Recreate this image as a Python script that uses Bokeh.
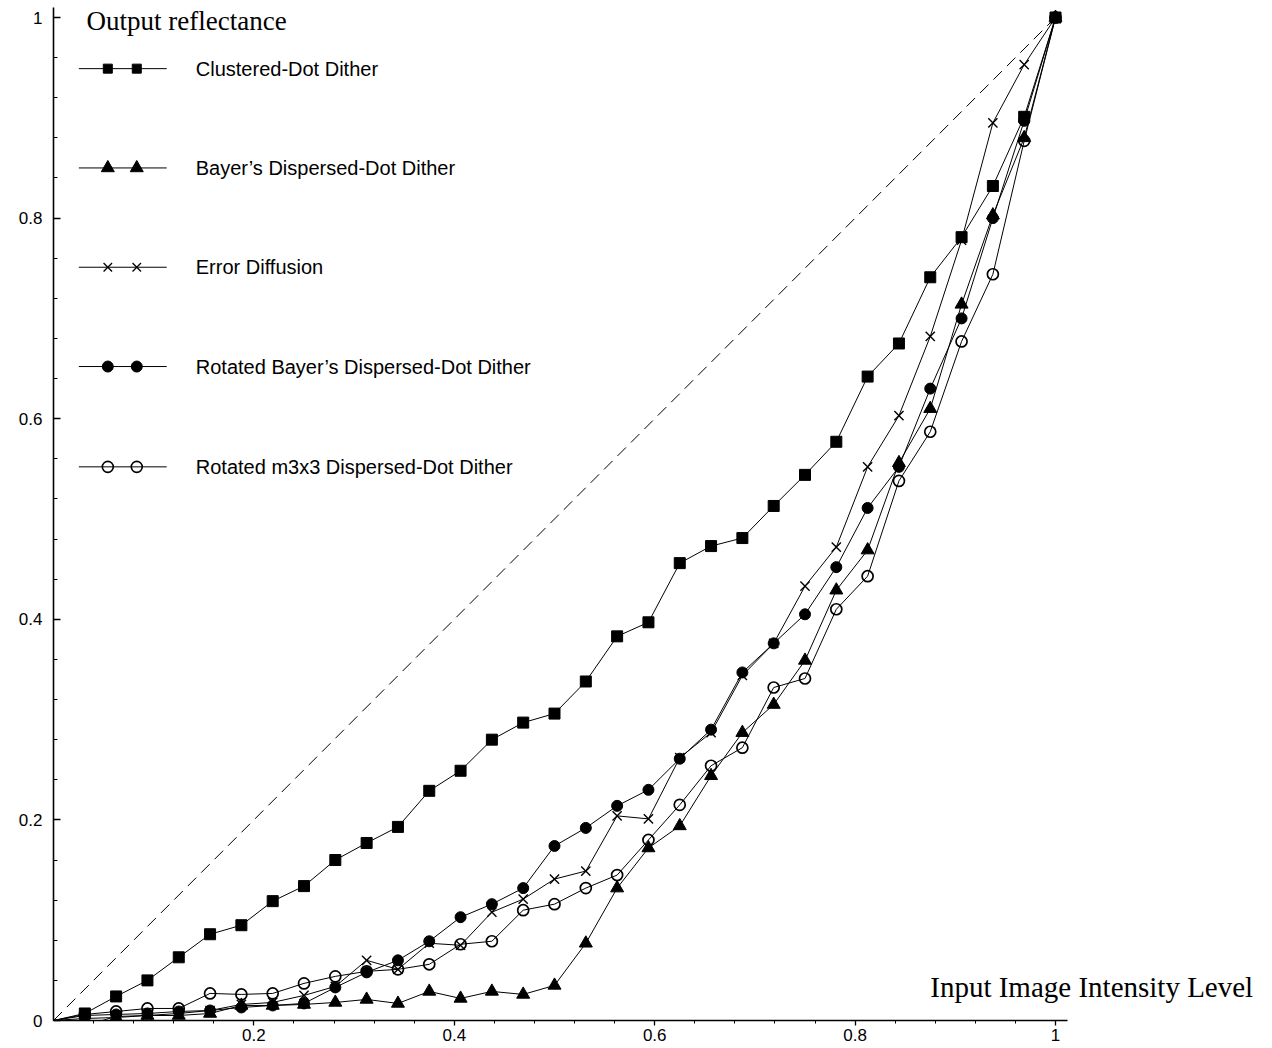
from bokeh.plotting import figure
from bokeh.models import Range1d, FixedTicker, CustomJSTickFormatter, Label
from bokeh.embed import file_html
from bokeh.resources import INLINE

# ---------------- data ----------------
x_levels = [0.0, 0.03125, 0.0625, 0.09375, 0.125, 0.15625, 0.1875, 0.21875, 0.25,
            0.28125, 0.3125, 0.34375, 0.375, 0.40625, 0.4375, 0.46875, 0.5,
            0.53125, 0.5625, 0.59375, 0.625, 0.65625, 0.6875, 0.71875, 0.75,
            0.78125, 0.8125, 0.84375, 0.875, 0.90625, 0.9375, 0.96875, 1.0]

clustered = [0.000, 0.007, 0.024, 0.040, 0.063, 0.086, 0.095, 0.119, 0.134, 0.160, 0.177,
             0.193, 0.229, 0.249, 0.280, 0.297, 0.306, 0.338, 0.383, 0.397, 0.456, 0.473,
             0.481, 0.513, 0.544, 0.577, 0.642, 0.675, 0.741, 0.781, 0.832, 0.901, 1.000]

bayer = [0.000, 0.002, 0.003, 0.005, 0.005, 0.007, 0.015, 0.015, 0.016, 0.018, 0.021,
         0.017, 0.029, 0.022, 0.029, 0.026, 0.035, 0.077, 0.132, 0.172, 0.194, 0.244,
         0.287, 0.315, 0.359, 0.429, 0.469, 0.556, 0.610, 0.714, 0.803, 0.880, 1.000]

error_diffusion = [0.000, -0.005, 0.004, 0.005, 0.007, 0.010, 0.016, 0.018, 0.025, 0.034, 0.060,
                   0.051, 0.077, 0.075, 0.108, 0.121, 0.141, 0.149, 0.204, 0.201, 0.262, 0.287,
                   0.344, 0.376, 0.433, 0.472, 0.552, 0.603, 0.682, 0.778, 0.895, 0.953, 1.000]

rotated_bayer = [0.000, 0.005, 0.006, 0.007, 0.009, 0.010, 0.013, 0.015, 0.017, 0.033, 0.048,
                 0.060, 0.079, 0.103, 0.116, 0.132, 0.174, 0.192, 0.214, 0.230, 0.261, 0.290,
                 0.347, 0.376, 0.405, 0.452, 0.511, 0.552, 0.630, 0.700, 0.800, 0.897, 1.000]

rotated_m3x3 = [0.000, 0.006, 0.009, 0.012, 0.012, 0.027, 0.026, 0.027, 0.037, 0.044, 0.049,
                0.051, 0.056, 0.076, 0.079, 0.110, 0.116, 0.132, 0.145, 0.180, 0.215, 0.254,
                0.272, 0.332, 0.341, 0.410, 0.443, 0.538, 0.587, 0.677, 0.744, 0.877, 1.000]

ideal_x = [0.0, 1.0]
ideal_y = [0.0, 1.0]

series_names = ["Clustered-Dot Dither",
                "Bayer\u2019s Dispersed-Dot Dither",
                "Error Diffusion",
                "Rotated Bayer\u2019s Dispersed-Dot Dither",
                "Rotated m3x3 Dispersed-Dot Dither"]

y_tick_values = [0.0, 0.2, 0.4, 0.6, 0.8, 1.0]
x_tick_values = [0.2, 0.4, 0.6, 0.8, 1.0]

y_title = "Output reflectance"
x_title = "Input Image Intensity Level"

# ---------------- styles ----------------
SANS = "Liberation Sans"
SERIF = "Liberation Serif"

marker_styles = [
    dict(marker="square", size=11, fill_color="black", line_color="black", line_width=1),
    dict(marker="triangle", size=13, fill_color="black", line_color="black", line_width=1),
    dict(marker="x", size=13, fill_color=None, line_color="black", line_width=1.4),
    dict(marker="circle", size=11, fill_color="black", line_color="black", line_width=1),
    dict(marker="circle", size=11, fill_color=None, line_color="black", line_width=1.7),
]
legend_marker_styles = [
    dict(marker="square", size=9, fill_color="black", line_color="black", line_width=1),
    dict(marker="triangle", size=13, fill_color="black", line_color="black", line_width=1),
    dict(marker="x", size=12, fill_color=None, line_color="black", line_width=1.3),
    dict(marker="circle", size=11, fill_color="black", line_color="black", line_width=1),
    dict(marker="circle", size=11, fill_color=None, line_color="black", line_width=1.6),
]

# frame: x 0..1 spans 1002 px starting 53 px from the left; y 0..1 spans 1003 px, y=0 at 1020 px
p = figure(frame_width=1209, frame_height=1020,
           x_range=Range1d(0, 1209 / 1002), y_range=Range1d(0, 1020 / 1003),
           output_backend="svg", toolbar_location=None, title=None,
           min_border_left=53, min_border_right=0, min_border_top=0, min_border_bottom=26)
p.grid.visible = False
p.outline_line_color = None
p.background_fill_color = "white"

# ideal diagonal
p.line(ideal_x, ideal_y, line_color="black", line_width=1, line_dash="12 7")

all_series = [clustered, bayer, error_diffusion, rotated_bayer, rotated_m3x3]
for ys, st in zip(all_series, marker_styles):
    p.line(x_levels, ys, line_color="black", line_width=1)
    p.scatter(x_levels[1:], ys[1:], **st)

# ---------------- manual legend (layout positions in data units) ----------------
leg_line_x = [0.0253, 0.113]
leg_mark_x = [0.0542, 0.0831]
leg_text_x = 0.142
leg_rows_y = [0.949, 0.850, 0.751, 0.652, 0.552]
for name, st, ry in zip(series_names, legend_marker_styles, leg_rows_y):
    p.line(leg_line_x, [ry, ry], line_color="black", line_width=1)
    p.scatter(leg_mark_x, [ry, ry], **st)
    p.add_layout(Label(x=leg_text_x, y=ry, text=name, text_font=SANS,
                       text_font_size="20px", text_baseline="middle", text_color="black"))

p.add_layout(Label(x=0.033, y=0.997, text=y_title, text_font=SERIF,
                   text_font_size="27px", text_baseline="middle", text_color="black"))
p.add_layout(Label(x=0.875, y=0.033, text=x_title, text_font=SERIF,
                   text_font_size="29px", text_baseline="middle", text_color="black"))

# ---------------- axes ----------------
fmt = CustomJSTickFormatter(code="var s = tick.toFixed(1); return s.endsWith('.0') ? s.slice(0, -2) : s;")
minor = [round(0.04 * i, 2) for i in range(1, 26)]

xa = p.xaxis[0]
xa.ticker = FixedTicker(ticks=x_tick_values, minor_ticks=minor)
xa.formatter = fmt
xa.bounds = (0, 1.012)
xa.major_tick_in = 0
xa.major_tick_out = 5
xa.minor_tick_in = 0
xa.minor_tick_out = 3
xa.major_label_standoff = 3

ya = p.yaxis[0]
ya.ticker = FixedTicker(ticks=y_tick_values, minor_ticks=minor)
ya.formatter = fmt
ya.bounds = (0, 1.01)
ya.major_tick_in = 7
ya.major_tick_out = 0
ya.minor_tick_in = 4
ya.minor_tick_out = 0
ya.major_label_standoff = 11

for ax in (xa, ya):
    ax.axis_line_width = 1.6
    ax.axis_line_color = "black"
    ax.major_tick_line_color = "black"
    ax.minor_tick_line_color = "black"
    ax.major_tick_line_width = 1.3
    ax.minor_tick_line_width = 1
    ax.major_label_text_font = SANS
    ax.major_label_text_font_size = "17px"
    ax.major_label_text_color = "black"

open("out.html", "w").write(file_html(p, INLINE))
